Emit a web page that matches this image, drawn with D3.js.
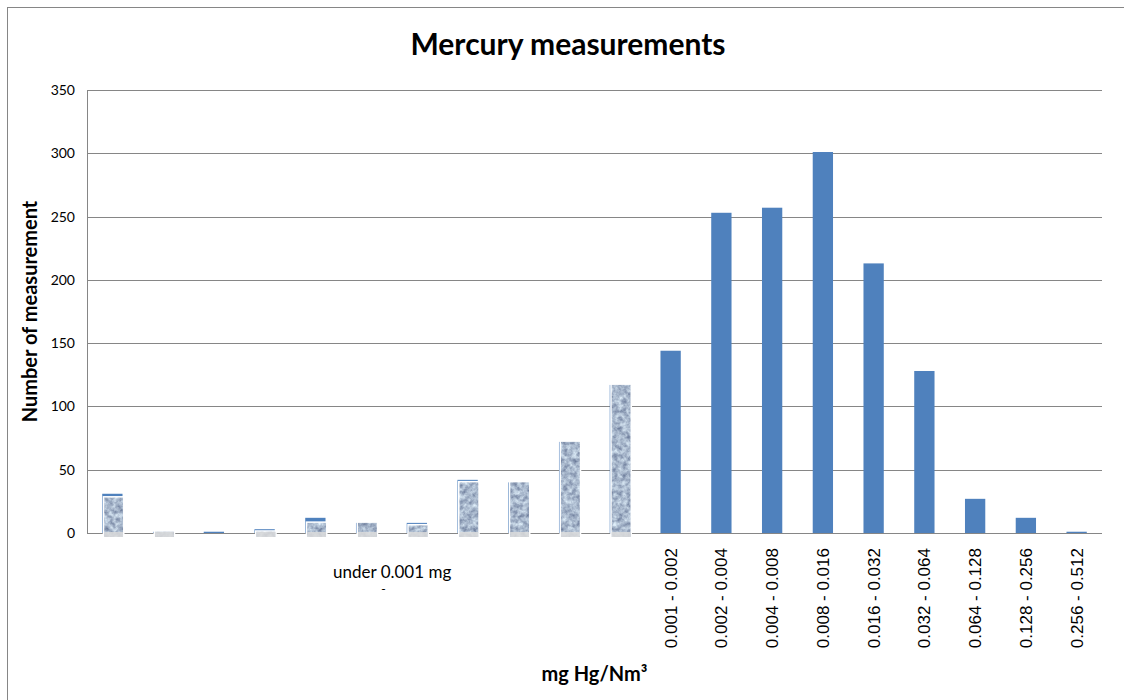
<!DOCTYPE html>
<html>
<head>
<meta charset="utf-8">
<script src="https://cdn.jsdelivr.net/npm/d3@7"></script>
<style>
  body { margin: 0; background: #fff; }
  svg { display: block; }
  .ytick text { font-family: Lato, "Open Sans", sans-serif; font-size: 14px; fill: #000; }
  .xtick { font-family: "Liberation Sans", Arial, sans-serif; font-size: 17px; fill: #000; }
</style>
</head>
<body>
<script>
// left part of the chart is a pasted picture covering bars with no separate labels
var lowBins = ["u1", "u2", "u3", "u4", "u5", "u6", "u7", "u8", "u9", "u10", "u11"];
var lowValues = [31, 1, 1, 3, 12, 8, 8, 42, 40, 72, 117];
var lowPictureValues = [28, 1, 0, 1, 8, 8, 6, 40, 40, 72, 117];
var lowLabel = ["under 0.001 mg", "/Nm\u00b3"];

var rangeLabels = ["0.001 - 0.002", "0.002 - 0.004", "0.004 - 0.008", "0.008 - 0.016",
    "0.016 - 0.032", "0.032 - 0.064", "0.064 - 0.128", "0.128 - 0.256", "0.256 - 0.512"];
var rangeValues = [144, 253, 257, 301, 213, 128, 27, 12, 1];

var yTicks = [0, 50, 100, 150, 200, 250, 300, 350];

var W = 1124, H = 700;
var plot = { left: 87, right: 1102, top: 90, bottom: 533 };
var blue = "#4F81BD";
var gridColor = "#868686";

var allKeys = lowBins.concat(rangeLabels);
var allValues = lowValues.concat(rangeValues);

var svg = d3.select("body").append("svg")
    .attr("width", W)
    .attr("height", H);

// grain used for the pasted picture
var defs = svg.append("defs");
var grain = defs.append("filter")
    .attr("id", "grain")
    .attr("filterUnits", "userSpaceOnUse")
    .attr("color-interpolation-filters", "sRGB")
    .attr("x", 0).attr("y", 0).attr("width", W).attr("height", H);
grain.append("feTurbulence")
    .attr("type", "fractalNoise")
    .attr("baseFrequency", 0.22)
    .attr("numOctaves", 3)
    .attr("seed", 7)
    .attr("result", "noise");
grain.append("feColorMatrix")
    .attr("in", "noise")
    .attr("type", "matrix")
    .attr("values", "0.6 0 0 0 0.36  0.6 0 0 0 0.42  0.5 0 0 0 0.55  0 0 0 0 1")
    .attr("result", "tint");
grain.append("feComposite")
    .attr("in", "tint")
    .attr("in2", "SourceGraphic")
    .attr("operator", "in");

defs.append("clipPath").attr("id", "lowLabelClip")
    .append("rect")
    .attr("x", 0).attr("y", 540).attr("width", W).attr("height", 50);

// outer chart border
svg.append("rect")
    .attr("x", 7.5).attr("y", 7.5)
    .attr("width", W + 20).attr("height", H + 20)
    .attr("fill", "none")
    .attr("stroke", gridColor)
    .attr("stroke-width", 1);

var x = d3.scaleBand()
    .domain(allKeys)
    .range([plot.left, plot.right])
    .paddingInner(0.6)
    .paddingOuter(0.3);

var y = d3.scaleLinear()
    .domain([0, 350])
    .range([plot.bottom, plot.top]);

// gridlines
svg.append("g")
    .selectAll("line.grid")
    .data(yTicks)
    .enter().append("line")
    .attr("class", "grid")
    .attr("x1", plot.left)
    .attr("x2", plot.right)
    .attr("y1", function (d) { return Math.round(y(d)) + 0.5; })
    .attr("y2", function (d) { return Math.round(y(d)) + 0.5; })
    .attr("stroke", gridColor)
    .attr("stroke-width", 1);

// y axis line + labels
svg.append("line")
    .attr("x1", plot.left + 0.5).attr("x2", plot.left + 0.5)
    .attr("y1", plot.top).attr("y2", plot.bottom + 0.5)
    .attr("stroke", gridColor);

svg.append("g")
    .attr("class", "ytick")
    .attr("transform", "translate(" + plot.left + ",0)")
    .call(d3.axisLeft(y).tickValues(yTicks).tickSize(0).tickPadding(12))
    .call(function (g) { g.select(".domain").remove(); });

// bars
var bw = x.bandwidth();
svg.append("g")
    .selectAll("rect.bar")
    .data(allKeys)
    .enter().append("rect")
    .attr("class", "bar")
    .attr("x", function (d) { return x(d); })
    .attr("width", bw)
    .attr("y", function (d, i) { return y(allValues[i]); })
    .attr("height", function (d, i) { return y(0) - y(allValues[i]); })
    .attr("fill", blue);

// pasted picture over the low bins
var pic = svg.append("g");
var picData = lowBins.map(function (k, i) { return { key: k, v: lowPictureValues[i] }; })
    .filter(function (d) { return d.v > 0; });

pic.selectAll("rect.mask")
    .data(picData)
    .enter().append("rect")
    .attr("x", function (d) { return x(d.key) + 2; })
    .attr("width", bw - 1.5)
    .attr("y", function (d) { return y(d.v); })
    .attr("height", function (d) { return y(0) - y(d.v) + 4; })
    .attr("fill", "#fff")
    .attr("stroke", "#fff")
    .attr("stroke-width", 3);

pic.selectAll("rect.tex")
    .data(picData)
    .enter().append("rect")
    .attr("x", function (d) { return x(d.key) + 2; })
    .attr("width", bw - 1.5)
    .attr("y", function (d) { return y(d.v); })
    .attr("height", function (d) { return y(0) - y(d.v) + 4; })
    .attr("fill", "#000")
    .attr("filter", "url(#grain)");

pic.selectAll("rect.foot")
    .data(picData)
    .enter().append("rect")
    .attr("x", function (d) { return x(d.key) + 2; })
    .attr("width", bw - 1.5)
    .attr("y", y(0) - 1)
    .attr("height", 5)
    .attr("fill", "#dcdcdc")
    .attr("opacity", 0.85);

// category labels
var lowMid = (x(lowBins[0]) + x(lowBins[lowBins.length - 1]) + bw) / 2;
svg.append("text")
    .attr("x", lowMid + 26)
    .attr("y", 578)
    .attr("text-anchor", "middle")
    .style("font-family", "Lato, 'Open Sans', sans-serif")
    .style("font-size", "17px")
    .text(lowLabel[0]);
svg.append("text")
    .attr("x", lowMid)
    .attr("y", 603)
    .attr("text-anchor", "middle")
    .attr("clip-path", "url(#lowLabelClip)")
    .style("font-family", "Lato, 'Open Sans', sans-serif")
    .style("font-size", "17px")
    .text(lowLabel[1]);

svg.append("g")
    .selectAll("text.xtick")
    .data(rangeLabels)
    .enter().append("text")
    .attr("class", "xtick")
    .attr("text-anchor", "end")
    .attr("dy", "0.35em")
    .attr("transform", function (d) {
        return "translate(" + (x(d) + bw / 2) + ",548) rotate(-90)";
    })
    .text(function (d) { return d; });

// titles
svg.append("text")
    .attr("x", 568)
    .attr("y", 55)
    .attr("text-anchor", "middle")
    .style("font-family", "Lato, 'Open Sans', sans-serif")
    .style("font-weight", "bold")
    .style("font-size", "30px")
    .text("Mercury measurements");

svg.append("text")
    .attr("transform", "translate(37," + ((plot.top + plot.bottom) / 2) + ") rotate(-90)")
    .attr("text-anchor", "middle")
    .style("font-family", "Lato, 'Open Sans', sans-serif")
    .style("font-weight", "bold")
    .style("font-size", "20px")
    .text("Number of measurement");

svg.append("text")
    .attr("x", (plot.left + plot.right) / 2)
    .attr("y", 681)
    .attr("text-anchor", "middle")
    .style("font-family", "Lato, 'Open Sans', sans-serif")
    .style("font-weight", "bold")
    .style("font-size", "20px")
    .text("mg Hg/Nm\u00b3");
</script>
</body>
</html>
